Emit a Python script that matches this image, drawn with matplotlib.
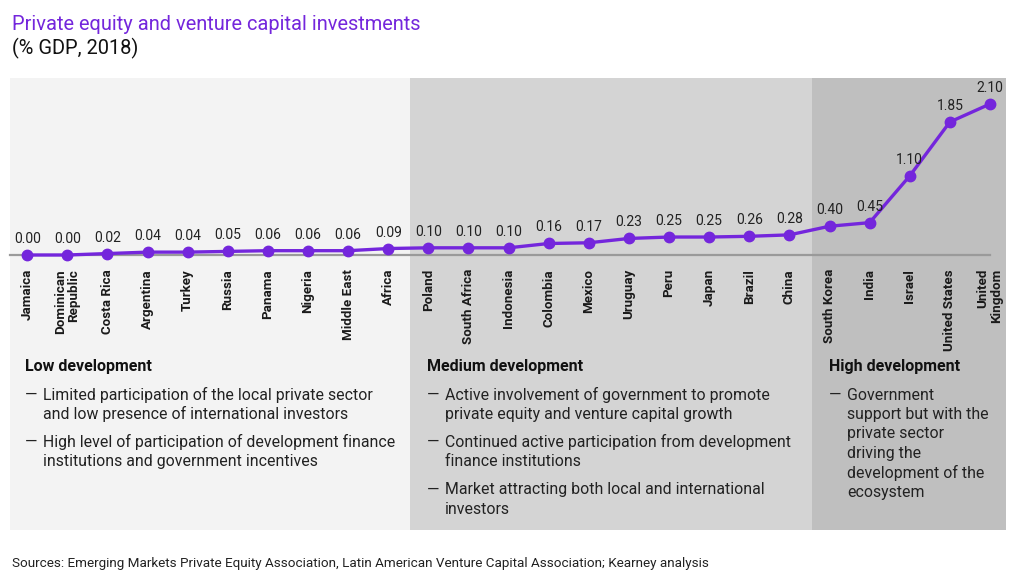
import matplotlib
matplotlib.use("Agg")
import matplotlib.pyplot as plt
from matplotlib.patches import Rectangle
from matplotlib.transforms import blended_transform_factory

plt.rcParams['font.family'] = ['Roboto', 'DejaVu Sans']

countries = ["Jamaica", "Dominican\nRepublic", "Costa Rica", "Argentina", "Turkey", "Russia",
             "Panama", "Nigeria", "Middle East", "Africa", "Poland", "South Africa", "Indonesia",
             "Colombia", "Mexico", "Uruguay", "Peru", "Japan", "Brazil", "China", "South Korea",
             "India", "Israel", "United States", "United\nKingdom"]
values = [0.00, 0.00, 0.02, 0.04, 0.04, 0.05, 0.06, 0.06, 0.06, 0.09, 0.10, 0.10, 0.10,
          0.16, 0.17, 0.23, 0.25, 0.25, 0.26, 0.28, 0.40, 0.45, 1.10, 1.85, 2.10]

group_titles = ["Low development", "Medium development", "High development"]
group_bullets = [
    ["Limited participation of the local private sector\nand low presence of international investors",
     "High level of participation of development finance\ninstitutions and government incentives"],
    ["Active involvement of government to promote\nprivate equity and venture capital growth",
     "Continued active participation from development\nfinance institutions",
     "Market attracting both local and international\ninvestors"],
    ["Government\nsupport but with the\nprivate sector\ndriving the\ndevelopment of the\necosystem"],
]
group_bounds = [9.55, 19.57]

title = "Private equity and venture capital investments"
subtitle = "(% GDP, 2018)"
source = ("Sources: Emerging Markets Private Equity Association, Latin American Venture "
          "Capital Association; Kearney analysis")

PURPLE = "#7426DC"
W, H = 1024, 576

def fx(x):
    return x / W

def fy(y):
    return 1 - y / H

fig = plt.figure(figsize=(10.24, 5.76), dpi=100)
fig.patch.set_facecolor("white")

# axes from y=78 to y=255 (value 0)
ax = fig.add_axes([fx(10), fy(255), fx(996), (255 - 78) / H])
ax.set_facecolor("none")
xl, xr = -0.43, 24.4
ax.set_xlim(xl, xr)
ax.set_ylim(0, (255 - 78) / 71.9)
for s in ax.spines.values():
    s.set_visible(False)
ax.set_yticks([])

# panels
tr = blended_transform_factory(ax.transData, fig.transFigure)
panel_colors = ["#f3f3f3", "#d4d4d4", "#bfbfbf"]
edges = [xl] + group_bounds + [xr]
for i in range(3):
    r = Rectangle((edges[i], fy(530)), edges[i + 1] - edges[i], (530 - 78) / H,
                  transform=tr, facecolor=panel_colors[i], edgecolor="none", zorder=-5)
    fig.patches.append(r)

x = list(range(len(values)))
ax.plot([xl, x[-1]], [0, 0], color="#9a9a9a", lw=1.6, zorder=2, clip_on=False)
ax.plot(x, values, color=PURPLE, lw=2.4, marker="o", ms=7.5, zorder=3, clip_on=False)
for xi, v in zip(x, values):
    ax.annotate(f"{v:.2f}", (xi, v), xytext=(0, 6.5), textcoords="offset points",
                ha="center", va="bottom", fontsize=10, color="#222222")

ax.set_xticks(x)
ax.set_xticklabels(countries, rotation=90, fontsize=9.6, fontweight="bold",
                   color="#1a1a1a", va="top", ha="center", multialignment="right",
                   linespacing=1.05)
ax.tick_params(axis="x", length=0, pad=10)

# texts
fig.text(fx(12), fy(24), title, color=PURPLE, fontsize=14.4, va="center", ha="left")
fig.text(fx(12), fy(48), subtitle, color="#111111", fontsize=14.4, va="center", ha="left")

lefts = [25, 427, 829]
LH = 19.4
for gi in range(3):
    x0 = lefts[gi]
    fig.text(fx(x0), fy(367), group_titles[gi], fontsize=11.5, fontweight="bold",
             color="#111111", va="center", ha="left")
    y = 395
    for b in group_bullets[gi]:
        lines = b.split("\n")
        fig.text(fx(x0), fy(y), "\u2014", fontsize=11.4, color="#222222", va="center", ha="left")
        for li, line in enumerate(lines):
            fig.text(fx(x0 + 18), fy(y + li * LH), line, fontsize=11.4, color="#222222",
                     va="center", ha="left")
        y += len(lines) * LH + 8.6

fig.text(fx(12), fy(564), source, fontsize=9.7, color="#222222", va="center", ha="left")

fig.savefig("out.png", dpi=100)
